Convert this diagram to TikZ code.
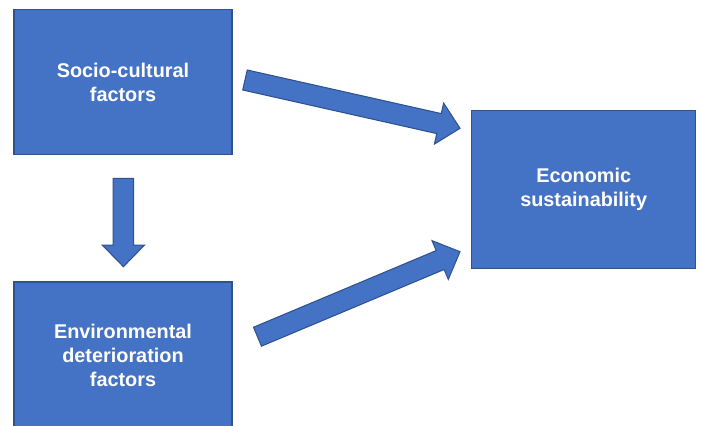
\documentclass[tikz,border=0pt]{standalone}
\usepackage{fontspec}
\setmainfont{Liberation Sans}
\usetikzlibrary{calc,positioning}
\definecolor{boxblue}{HTML}{4472C4}
\definecolor{edgeblue}{HTML}{2F528F}
\tikzset{
  factorbox/.style={
    rectangle,
    fill=boxblue,
    draw=edgeblue, line width=0.6pt,
    text=white,
    font=\fontsize{11.3}{13.7}\selectfont\bfseries,
    align=center},
  blockarrow/.style={fill=boxblue, draw=edgeblue, line width=0.6pt, line join=miter}
}
% block arrow from #1 to #2
\newcommand{\fatarrow}[2]{%
  \draw[blockarrow] let \p1=($(#2)-(#1)$), \n1={atan2(\y1,\x1)} in
    ($(#1)+(\n1+90:2.05mm)$)
    -- ($(#2)+(\n1+180:4.3mm)+(\n1+90:2.05mm)$)
    -- ($(#2)+(\n1+180:4.3mm)+(\n1+90:4.2mm)$)
    -- (#2)
    -- ($(#2)+(\n1+180:4.3mm)+(\n1-90:4.2mm)$)
    -- ($(#2)+(\n1+180:4.3mm)+(\n1-90:2.05mm)$)
    -- ($(#1)+(\n1-90:2.05mm)$) -- cycle;}

\begin{document}
\begin{tikzpicture}[x=0.02cm, y=-0.02cm]
  \useasboundingbox (0,0) rectangle (701,426);

  \node[factorbox, minimum width=4.36cm, minimum height=2.9cm] (Socio) at (123,82)
    {Socio-cultural\\factors};
  \node[factorbox, minimum width=4.36cm, minimum height=2.92cm] (Environ) at (123,355)
    {Environmental\\deterioration\\factors};
  \node[factorbox, minimum width=4.48cm, minimum height=3.15cm] (Econ) at (583.7,189.5)
    {Economic\\sustainability};

  \coordinate (socioTail) at (245,80);
  \coordinate (socioTip) at (460,128.3);
  \coordinate (downTail) at (123.4,178.3);
  \coordinate (downTip) at (123.4,266.7);
  \coordinate (envTail) at (257.5,336.7);
  \coordinate (envTip) at (460,251.7);

  \fatarrow{socioTail}{socioTip}
  \fatarrow{downTail}{downTip}
  \fatarrow{envTail}{envTip}
\end{tikzpicture}
\end{document}
